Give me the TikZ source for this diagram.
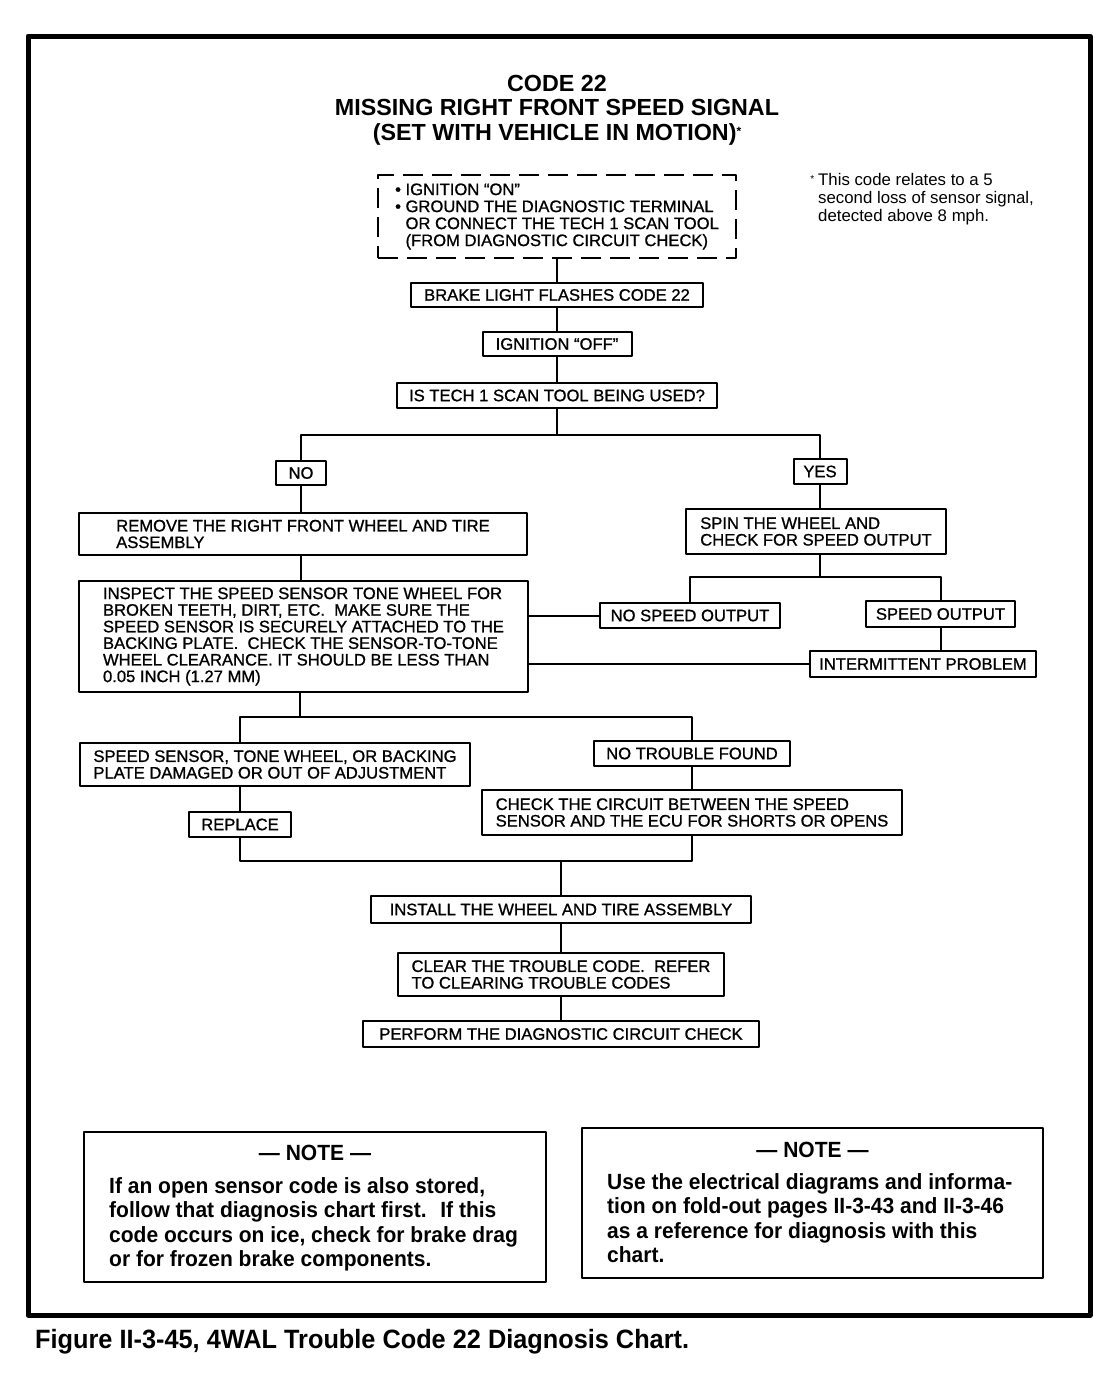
\documentclass[tikz,border=0pt]{standalone}
\usepackage{fontspec}
\setmainfont{Liberation Sans}
\newfontfamily\boxfont{Liberation Sans}[FakeBold=1]
\newfontfamily\notefont{Liberation Sans}[FakeStretch=0.955]
\begin{document}
\begin{tikzpicture}[x=1pt,y=-1pt,line join=round,line cap=round,
 box/.style={draw,line width=2pt,inner sep=0pt,align=left,font=\boxfont\fontsize{16.6}{16.6}\selectfont},
 dashbox/.style={box,dash pattern=on 20pt off 9pt,line width=2.5pt,line cap=butt,font=\boxfont\fontsize{16.6}{17}\selectfont},
 notebox/.style={draw,line width=2pt,minimum width=462,minimum height=150},
 notehead/.style={font=\notefont\bfseries\fontsize{22}{24}\selectfont,inner sep=0pt},
 notetext/.style={anchor=north west,align=left,inner sep=0pt,font=\notefont\bfseries\fontsize{22}{24.6}\selectfont},
 link/.style={line width=2pt}]
\useasboundingbox (0,0) rectangle (1104,1376);
\draw[line width=5pt] (28,36) rectangle (1090,1315);
% heading
\node[align=center,inner sep=0pt,font=\bfseries\fontsize{23.3}{24.5}\selectfont] (title) at (557,110)
 {CODE 22\\MISSING RIGHT FRONT SPEED SIGNAL\\(SET WITH VEHICLE IN MOTION)\raisebox{5pt}{\fontsize{12}{12}\selectfont *}};
\node[anchor=north west,align=left,inner sep=0pt,font=\fontsize{16.8}{18}\selectfont] (foot) at (818,173)
 {\llap{\raisebox{3pt}{\fontsize{10}{10}\selectfont *}\hspace{4pt}}This code relates to a 5\\second loss of sensor signal,\\detected above 8 mph.};
% main column
\node[dashbox,minimum width=358,minimum height=83] (start) at (557,216.5)
 {• IGNITION “ON”\\• GROUND THE DIAGNOSTIC TERMINAL\\\phantom{• }OR CONNECT THE TECH 1 SCAN TOOL\\\phantom{• }(FROM DIAGNOSTIC CIRCUIT CHECK)};
\node[box,minimum width=292,minimum height=24] (flash) at (557,295) {BRAKE LIGHT FLASHES CODE 22};
\node[box,minimum width=149,minimum height=24] (ignoff) at (557,344) {IGNITION “OFF”};
\node[box,minimum width=320,minimum height=25] (tech) at (557,395.5) {IS TECH 1 SCAN TOOL BEING USED?};
\coordinate (split) at (557,435);
% NO branch
\node[box,minimum width=50,minimum height=24] (no) at (301,473) {NO};
\node[box,minimum width=448,minimum height=42] (remove) at (303,534)
 {REMOVE THE RIGHT FRONT WHEEL AND TIRE\\ASSEMBLY};
\node[box,minimum width=449,minimum height=111] (inspect) at (303.5,636.5)
 {INSPECT THE SPEED SENSOR TONE WHEEL FOR\\BROKEN TEETH, DIRT, ETC.~ MAKE SURE THE\\SPEED SENSOR IS SECURELY ATTACHED TO THE\\BACKING PLATE.~ CHECK THE SENSOR-TO-TONE\\WHEEL CLEARANCE. IT SHOULD BE LESS THAN\\0.05 INCH (1.27 MM)};
% YES branch
\node[box,minimum width=53,minimum height=25] (yes) at (820,471.5) {YES};
\node[box,minimum width=260,minimum height=45] (spin) at (816,531.5)
 {SPIN THE WHEEL AND\\CHECK FOR SPEED OUTPUT};
\coordinate (split2) at (820,577);
\node[box,minimum width=180,minimum height=25] (nospeed) at (690,615.5) {NO SPEED OUTPUT};
\node[box,minimum width=149,minimum height=26] (speed) at (940.5,614) {SPEED OUTPUT};
\node[box,minimum width=226,minimum height=26] (intermit) at (923,664) {INTERMITTENT PROBLEM};
% inspection result
\coordinate (split3) at (300,717);
\node[box,minimum width=390,minimum height=43] (damaged) at (275,764.5)
 {SPEED SENSOR, TONE WHEEL, OR BACKING\\PLATE DAMAGED OR OUT OF ADJUSTMENT};
\node[box,minimum width=102,minimum height=25] (replace) at (240,824.5) {REPLACE};
\node[box,minimum width=196,minimum height=25] (notrouble) at (692,753.5) {NO TROUBLE FOUND};
\node[box,minimum width=420,minimum height=45] (circuit) at (692,812.5)
 {CHECK THE CIRCUIT BETWEEN THE SPEED\\SENSOR AND THE ECU FOR SHORTS OR OPENS};
\coordinate (join) at (561,861);
\node[box,minimum width=380,minimum height=27] (install) at (561,909.5) {INSTALL THE WHEEL AND TIRE ASSEMBLY};
\node[box,minimum width=326,minimum height=43] (clear) at (561,974.5)
 {CLEAR THE TROUBLE CODE.~ REFER\\TO CLEARING TROUBLE CODES};
\node[box,minimum width=396,minimum height=26] (perform) at (561,1034) {PERFORM THE DIAGNOSTIC CIRCUIT CHECK};
% connectors
\draw[link] (start) -- (flash);
\draw[link] (flash) -- (ignoff);
\draw[link] (ignoff) -- (tech);
\draw[link] (tech.south) -- (split);
\draw[link] (no.north) -- (no.north |- split) -- (yes.north |- split) -- (yes.north);
\draw[link] (no.south) -- (no.south |- remove.north);
\draw[link] (remove.south -| no) -- (inspect.north -| no);
\draw[link] (yes.south) -- (yes.south |- spin.north);
\draw[link] (spin.south -| split2) -- (split2);
\draw[link] (nospeed.north) -- (nospeed.north |- split2) -- (speed.north |- split2) -- (speed.north);
\draw[link] (speed.south) -- (speed.south |- intermit.north);
\draw[link] (nospeed.west) -- (nospeed.west -| inspect.east);
\draw[link] (intermit.west) -- (intermit.west -| inspect.east);
\draw[link] (inspect.south -| split3) -- (split3);
\draw[link] (damaged.north -| replace) -- (replace.north |- split3) -- (notrouble.north |- split3) -- (notrouble.north);
\draw[link] (damaged.south -| replace) -- (replace.north);
\draw[link] (notrouble) -- (circuit);
\draw[link] (replace.south) -- (replace.south |- join) -- (circuit.south |- join) -- (circuit.south);
\draw[link] (join) -- (install.north);
\draw[link] (install) -- (clear);
\draw[link] (clear) -- (perform);
% notes
\node[notebox] (note1) at (315,1206.5) {};
\node[notehead] (note1head) at (315,1153) {— NOTE —};
\node[notetext] (note1text) at (109,1177)
 {If an open sensor code is also stored,\\follow that diagnosis chart first.~ If this\\code occurs on ice, check for brake drag\\or for frozen brake components.};
\node[notebox,minimum width=461] (note2) at (812.5,1202.5) {};
\node[notehead] (note2head) at (812.5,1150) {— NOTE —};
\node[notetext] (note2text) at (607,1173)
 {Use the electrical diagrams and informa-\\tion on fold-out pages II-3-43 and II-3-46\\as a reference for diagnosis with this\\chart.};
\node[anchor=west,inner sep=0pt,font=\notefont\bfseries\fontsize{26.5}{30}\selectfont] (caption) at (35,1342)
 {Figure II-3-45, 4WAL Trouble Code 22 Diagnosis Chart.};
\end{tikzpicture}
\end{document}
